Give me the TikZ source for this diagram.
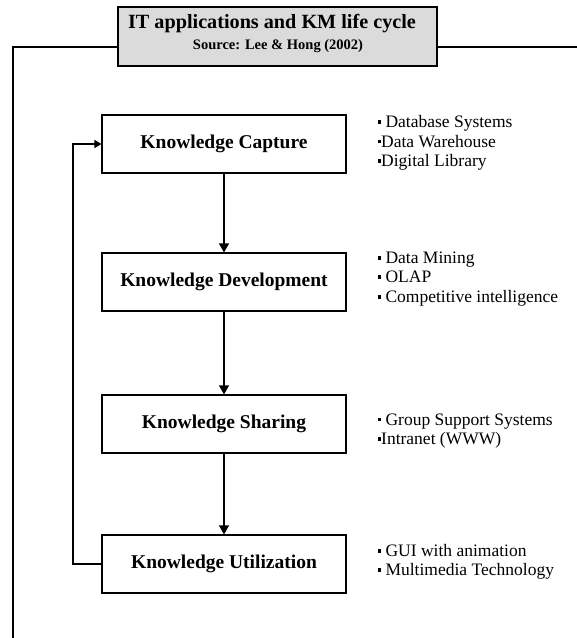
\documentclass[tikz,border=0pt]{standalone}
\usepackage{fontspec}
\setmainfont{Liberation Serif}
\usetikzlibrary{arrows.meta}

% small square bullet used in the application lists
\newcommand{\sqb}{\rule[0.22em]{3.6pt}{3.6pt}}

\begin{document}
\begin{tikzpicture}[x=1pt,y=-1pt,
  line width=1.2pt,
  stagebox/.style={draw, rectangle, minimum width=244pt, minimum height=58pt,
    inner sep=0pt, font=\bfseries\fontsize{19.5}{21}\selectfont},
  titlebox/.style={draw, rectangle, fill=black!14, minimum width=319pt,
    minimum height=59pt, inner sep=0pt},
  applist/.style={anchor=west, align=left, inner sep=0pt,
    font=\fontsize{17.5}{19.5}\selectfont},
  flow/.style={-{Triangle[width=10pt,length=9pt]}},
  backflow/.style={-{Triangle[width=8pt,length=7pt]}}
]
\useasboundingbox (0,0) rectangle (577,638);

% heading
\node[titlebox] (title) at (277.5,36.5) {};
\node[font=\bfseries\fontsize{20.2}{22}\selectfont, inner sep=0pt] (titletext) at (272,24) {IT applications and KM life cycle};
\node[font=\bfseries\fontsize{14.5}{16}\selectfont, inner sep=0pt] (source) at (278,46) {Source: Lee \& Hong (2002)};

% surrounding frame line
\coordinate (frameL) at (13,47);
\coordinate (frameB) at (13,640);
\coordinate (frameR) at (580,47);
\draw ([yshift=-10.5pt]title.west) -- (frameL) -- (frameB);
\draw ([yshift=-10.5pt]title.east) -- (frameR);

% life-cycle stages
\node[stagebox] (cap) at (224,144) {Knowledge Capture};
\node[stagebox] (dev) at (224,282) {Knowledge Development};
\node[stagebox] (sha) at (224,424) {Knowledge Sharing};
\node[stagebox] (uti) at (224,564) {Knowledge Utilization};

\draw[flow] (cap) -- (dev);
\draw[flow] (dev) -- (sha);
\draw[flow] (sha) -- (uti);

% feedback loop back to capture
\coordinate (loopB) at (73,564);
\coordinate (loopT) at (73,144);
\draw[backflow] (uti.west) -- (loopB) -- (loopT) -- (cap.west);

% supporting IT applications
\node[applist] (l1) at (377,143) {\sqb\ Database Systems\\ \sqb Data Warehouse\\ \sqb Digital Library};
\node[applist] (l2) at (377,279) {\sqb\ Data Mining\\ \sqb\ OLAP\\ \sqb\ Competitive intelligence};
\node[applist] (l3) at (377,431) {\sqb\ Group Support Systems\\ \sqb Intranet (WWW)};
\node[applist] (l4) at (377,562) {\sqb\ GUI with animation\\ \sqb\ Multimedia Technology};
\end{tikzpicture}
\end{document}
